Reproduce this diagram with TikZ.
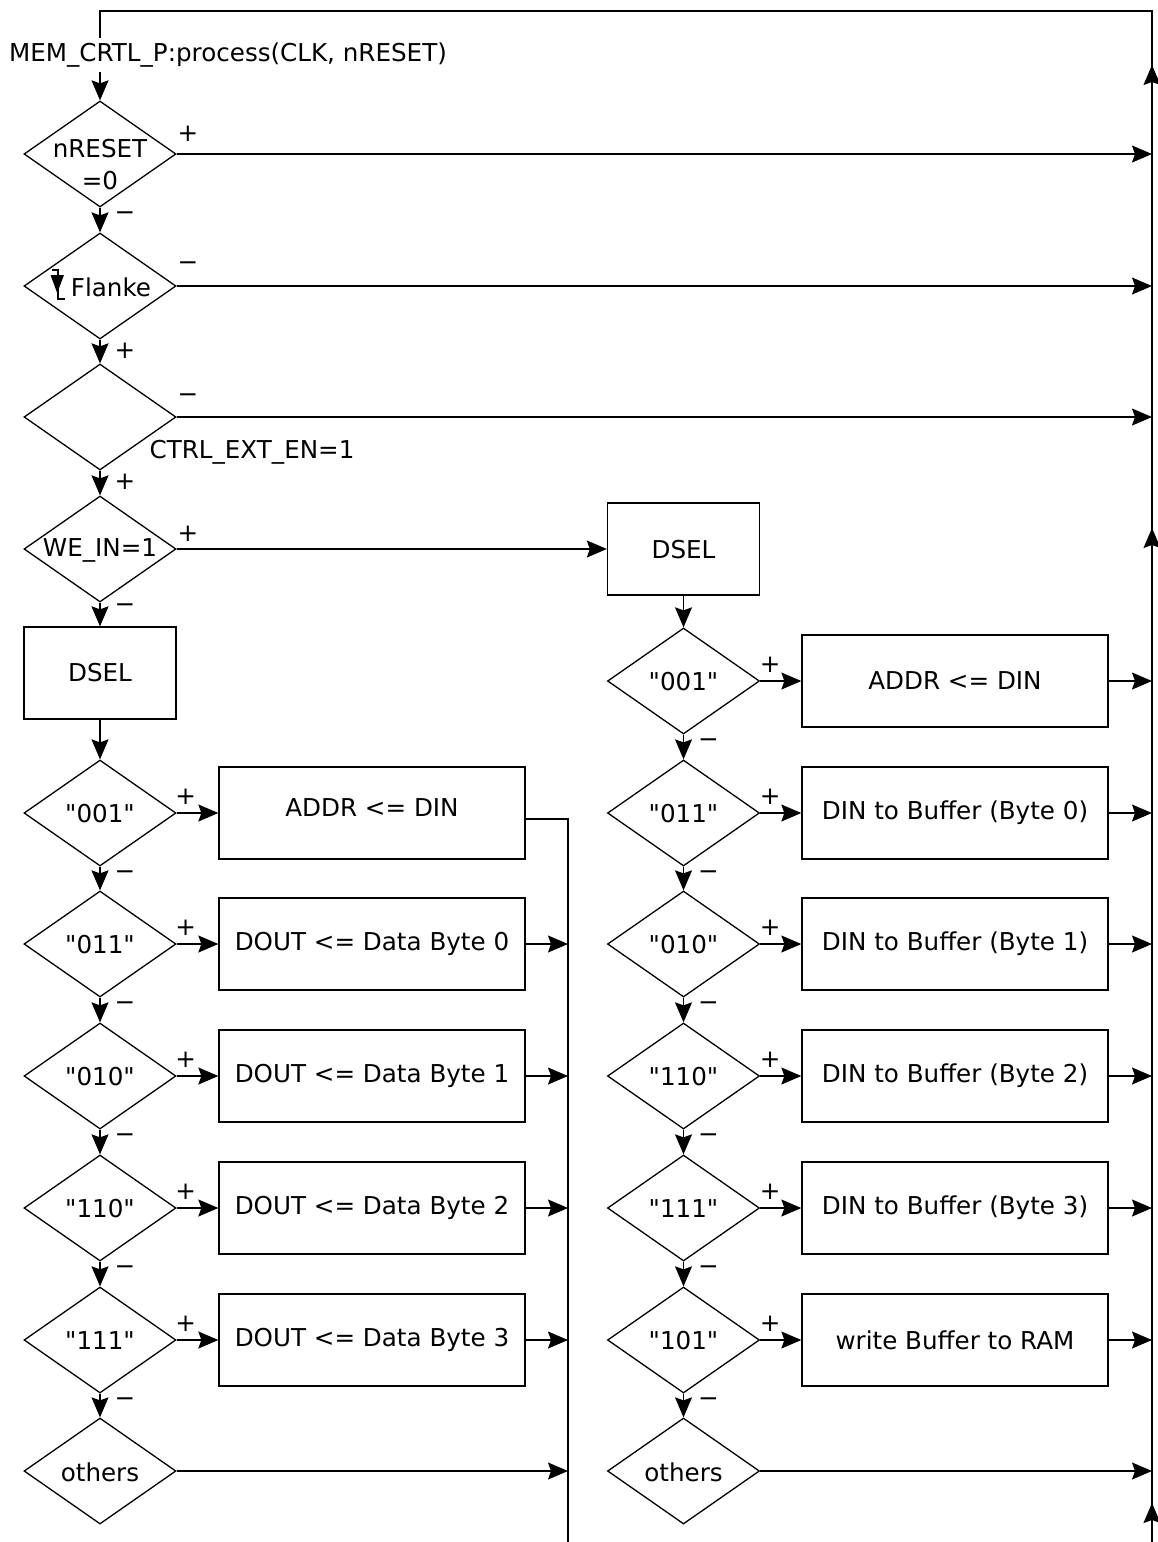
\documentclass[tikz,border=0pt]{standalone}
\usepackage{fontspec}
\setmainfont{DejaVu Sans}[Ligatures=TeXOff]
\usetikzlibrary{shapes.geometric,arrows.meta}
\begin{document}
\begin{tikzpicture}[x=1pt,y=-1pt,line width=1.3pt,
  font=\fontsize{24.6}{32}\selectfont,
  arr/.style={-{Stealth[length=20pt,width=17pt,inset=3pt]}},
  dia/.style={diamond,draw,minimum width=152pt,minimum height=106pt,inner sep=0pt},
  box/.style={rectangle,draw,minimum width=306pt,minimum height=92pt,inner sep=0pt},
  dsel/.style={rectangle,draw,minimum width=152pt,minimum height=92pt,inner sep=0pt},
  txt/.style={inner sep=0pt,align=center},
  sgn/.style={inner sep=0pt}]
\useasboundingbox (0,0) rectangle (1157,1542);

% frame coordinates of the loop-back and the collecting line
\coordinate (lt) at (100,11);
\coordinate (rt) at (1152,11);
\coordinate (rb) at (1152,1542);
\coordinate (mtop) at (568,819);
\coordinate (mbot) at (568,1542);

% process header
\node[txt,inner sep=4pt] (title) at (228,55) {MEM\_CRTL\_P:process(CLK, nRESET)};
\draw (lt |- title.north) -- (lt) -- (rt) -- (rb);

% up arrows on the loop-back line
\coordinate (ua1) at (1152,86);  \coordinate (ub1) at (1152,65);
\coordinate (ua2) at (1152,549); \coordinate (ub2) at (1152,528);
\coordinate (ua3) at (1152,1524); \coordinate (ub3) at (1152,1503);
\draw[arr] (ua1) -- (ub1);
\draw[arr] (ua2) -- (ub2);
\draw[arr] (ua3) -- (ub3);

% main decisions
\node[dia] (d1) at (100,154) {};
\node[txt] (d1t) at (100,165) {nRESET\\=0};
\node[dia] (d2) at (100,286) {};
\node[txt] (d2t) at (111,287) {Flanke};
% falling-edge symbol
\draw[line width=1.3pt] (52,270) -- (58,270) -- (58,299) -- (65,299);
\fill (50.5,275) -- (64,275) -- (57.2,293) -- cycle;
\node[dia] (d3) at (100,417) {};
\node[txt,anchor=west] (d3t) at (149,452) {CTRL\_EXT\_EN=1};
\node[dia] (d4) at (100,549) {};
\node[txt] (d4t) at (100,550) {WE\_IN=1};

\draw[arr] (lt |- title.south) -- (d1.north);
\draw[arr] (d1.south) -- (d2.north);
\draw[arr] (d2.south) -- (d3.north);
\draw[arr] (d3.south) -- (d4.north);
\draw[arr] (d1.east) -- (d1.east -| rt);
\draw[arr] (d2.east) -- (d2.east -| rt);
\draw[arr] (d3.east) -- (d3.east -| rt);

\node[sgn] (s1a) at (188,134) {+};
\node[sgn] (s1b) at (125,216) {−};
\node[sgn] (s2a) at (188,266) {−};
\node[sgn] (s2b) at (125,351) {+};
\node[sgn] (s3a) at (188,398) {−};
\node[sgn] (s3b) at (125,482) {+};
\node[sgn] (s4a) at (188,534) {+};
\node[sgn] (s4b) at (125,608) {−};

% read branch (left)
\node[dsel] (lsel) at (100,673) {DSEL};
\draw[arr] (d4.south) -- (lsel.north);

\foreach \i/\y/\v in {1/813/"001",2/944/"011",3/1076/"010",4/1208/"110",5/1340/"111",6/1471/others}{
  \node[dia] (l\i) at (100,\y) {};
  \node[txt] (l\i t) at (100,\y+1) {\v};
}
\draw[arr] (lsel.south) -- (l1.north);
\foreach \i [count=\j from 2] in {1,...,5}{
  \draw[arr] (l\i.south) -- (l\j.north);
  \node[sgn] (lm\i) at ([xshift=25pt,yshift=-8pt]l\i.south) {−};
  \node[sgn] (lp\i) at ([xshift=9pt,yshift=16pt]l\i.east) {+};
}

\node[box] (lb1) at (372,813) {};
\node[txt] (lb1t) at (372,808) {ADDR <= DIN};
\foreach \i/\y/\n in {2/944/0,3/1076/1,4/1208/2,5/1340/3}{
  \node[box] (lb\i) at (372,\y) {};
  \node[txt] (lb\i t) at (372,\y) {DOUT <= Data Byte \n};
}
\foreach \i in {1,...,5}{
  \draw[arr] (l\i.east) -- (lb\i.west);
}
\draw (lb1.east |- mtop) -- (mtop) -- (mbot);
\foreach \i in {2,...,5}{
  \draw[arr] (lb\i.east) -- (lb\i.east -| mtop);
}
\draw[arr] (l6.east) -- (l6.east -| mtop);

% write branch (right)
\node[dsel] (rsel) at (683.5,549) {};
\node[txt] (rselt) at (683.5,550) {DSEL};
\draw[arr] (d4.east) -- (rsel.west);
\foreach \i/\y/\v in {1/681/"001",2/813/"011",3/944/"010",4/1076/"110",5/1208/"111",6/1340/"101",7/1471/others}{
  \node[dia] (r\i) at (683.5,\y) {};
  \node[txt] (r\i t) at (683.5,\y+1) {\v};
}
\draw[arr] (rsel.south) -- (r1.north);
\foreach \i [count=\j from 2] in {1,...,6}{
  \draw[arr] (r\i.south) -- (r\j.north);
  \node[sgn] (rm\i) at ([xshift=25pt,yshift=-8pt]r\i.south) {−};
  \node[sgn] (rp\i) at ([xshift=10pt,yshift=16pt]r\i.east) {+};
}
\foreach \i/\y/\t in {1/681/{ADDR <= DIN},2/813/{DIN to Buffer (Byte 0)},3/944/{DIN to Buffer (Byte 1)},4/1076/{DIN to Buffer (Byte 2)},5/1208/{DIN to Buffer (Byte 3)},6/1340/{write Buffer to RAM}}{
  \node[box] (rb\i) at (955,\y) {};
  \node[txt] (rb\i t) at (955,\y) {\t};
  \draw[arr] (r\i.east) -- (rb\i.west);
  \draw[arr] (rb\i.east) -- (rb\i.east -| rt);
}
\draw[arr] (r7.east) -- (r7.east -| rt);
\end{tikzpicture}
\end{document}
